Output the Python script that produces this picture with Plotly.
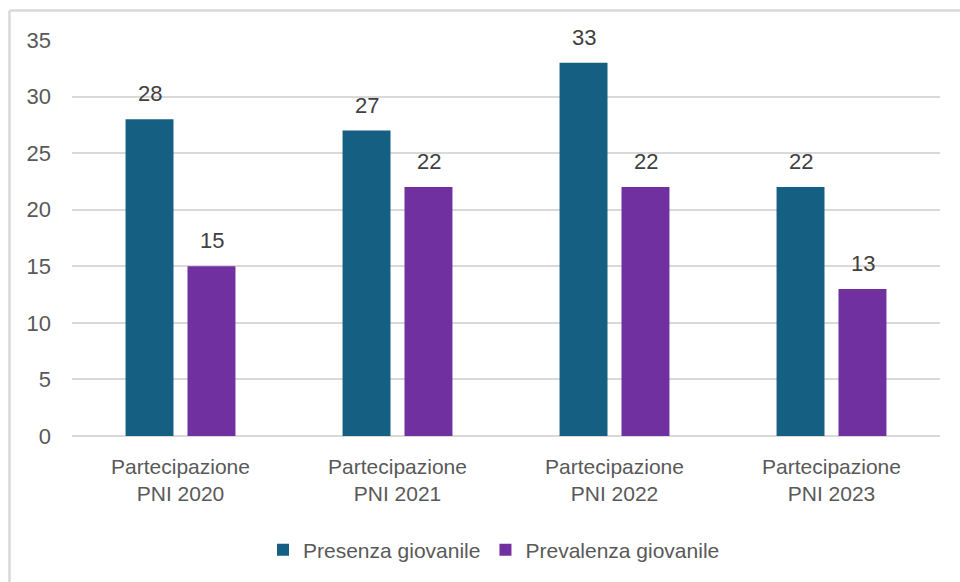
import plotly.graph_objects as go

categories = ["Partecipazione<br>PNI 2020", "Partecipazione<br>PNI 2021",
              "Partecipazione<br>PNI 2022", "Partecipazione<br>PNI 2023"]
presenza = [28, 27, 33, 22]
prevalenza = [15, 22, 22, 13]
y_ticks = [0, 5, 10, 15, 20, 25, 30, 35]

TEAL = "#156082"
PURPLE = "#7030A0"
FONT = "Liberation Sans"

fig = go.Figure()
fig.add_trace(go.Bar(name="Presenza giovanile", x=categories, y=presenza,
                     marker=dict(color=TEAL, line=dict(width=0))))
fig.add_trace(go.Bar(name="Prevalenza giovanile", x=categories, y=prevalenza,
                     marker=dict(color=PURPLE, line=dict(width=0))))

# value labels above each bar
annotations = []
for series, shift in ((presenza, -31), (prevalenza, 31)):
    for cat, v in zip(categories, series):
        annotations.append(dict(x=cat, y=v, xref="x", yref="y", text=str(v),
                                showarrow=False, xshift=shift, yshift=11,
                                yanchor="bottom",
                                font=dict(family=FONT, size=22, color="#404040")))

# outer chart frame
L, R, T, B = 72, 940, 40, 436
def px(x):
    return (x - L) / (R - L)
def py(y):
    return (B - y) / (B - T)
frame = dict(type="line", xref="paper", yref="paper",
             line=dict(color="#D9D9D9", width=2.5))
shapes = [
    dict(frame, x0=px(9.5), x1=px(9.5), y0=py(10.5), y1=py(600)),
    dict(frame, x0=px(9.5), x1=px(980), y0=py(10.5), y1=py(10.5)),
]

fig.update_layout(
    width=960, height=582,
    margin=dict(l=L, r=960 - R, t=T, b=582 - B),
    paper_bgcolor="white", plot_bgcolor="white",
    barmode="group", bargap=0.429, bargroupgap=0.226,
    font=dict(family=FONT, color="#595959"),
    showlegend=True,
    legend=dict(orientation="h", x=px(494), xanchor="center",
                y=py(550), yanchor="middle",
                font=dict(family=FONT, size=21, color="#595959"),
                itemwidth=30, traceorder="normal"),
    annotations=annotations,
    shapes=shapes,
)
fig.update_xaxes(showgrid=False, showline=False, ticks="",
                 ticklabelstandoff=16,
                 tickfont=dict(family=FONT, size=21, color="#595959"))
fig.update_yaxes(range=[0, 35], tickvals=y_ticks, showgrid=True,
                 gridcolor="#D9D9D9", gridwidth=1.8, zeroline=True,
                 zerolinecolor="#D9D9D9", zerolinewidth=1.8, showline=False,
                 ticks="", ticklabelstandoff=20,
                 tickfont=dict(family=FONT, size=22, color="#595959"))

fig.write_html("out.html")
